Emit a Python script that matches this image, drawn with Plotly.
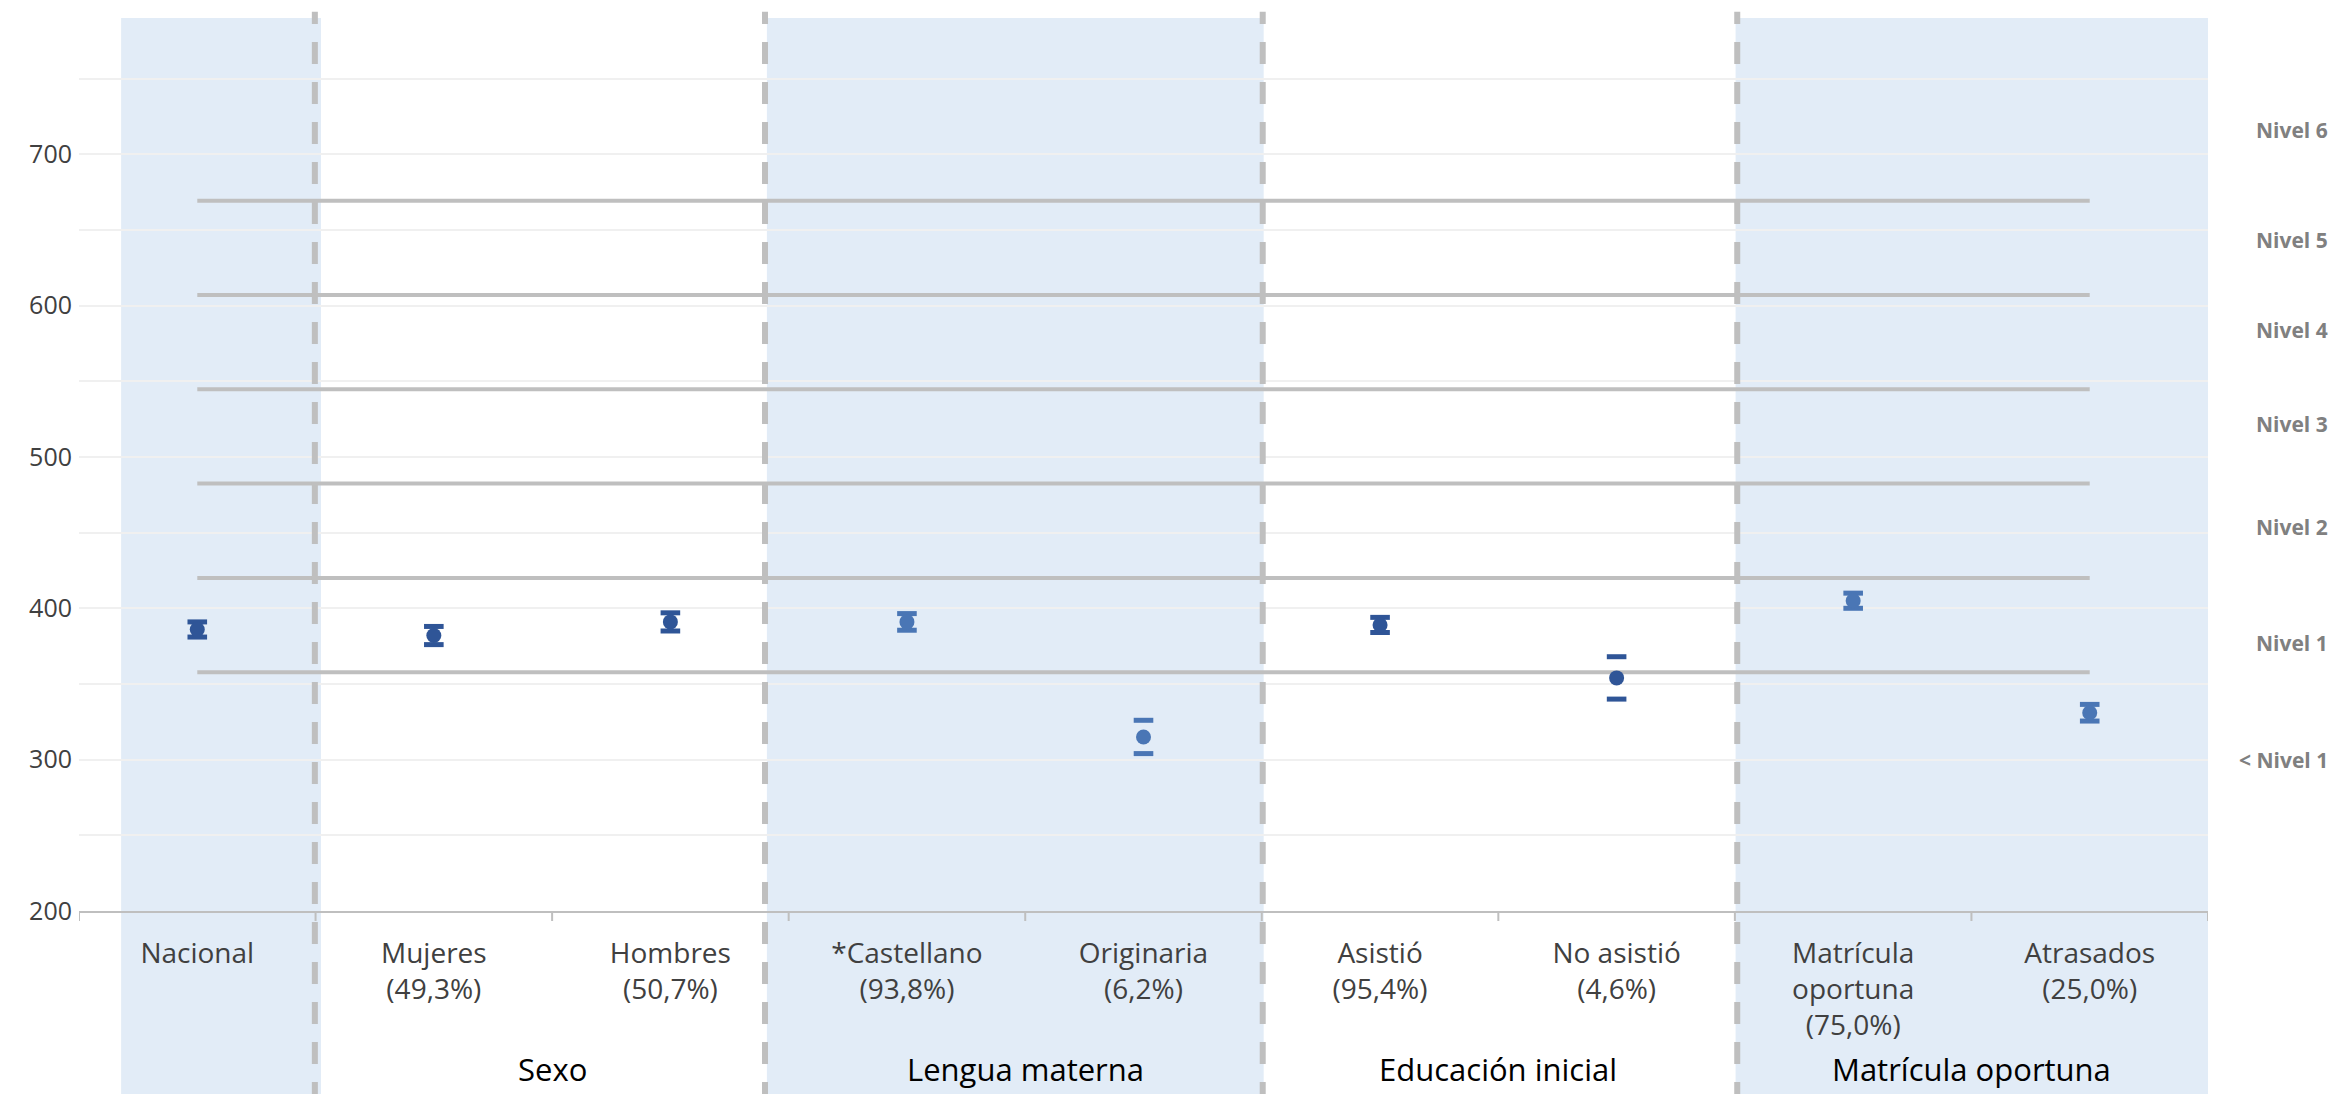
import plotly.graph_objects as go

categories = ["Nacional", "Mujeres<br>(49,3%)", "Hombres<br>(50,7%)", "*Castellano<br>(93,8%)",
              "Originaria<br>(6,2%)", "Asistió<br>(95,4%)", "No asistió<br>(4,6%)",
              "Matrícula<br>oportuna<br>(75,0%)", "Atrasados<br>(25,0%)"]
means = [386, 382, 391, 391, 315, 389, 354, 405, 331]
errors = [5, 6, 6, 5.5, 11, 5, 14, 5, 5.5]
shaded = [False, False, False, True, True, False, False, True, True]

groups = ["Sexo", "Lengua materna", "Educación inicial", "Matrícula oportuna"]
group_centers = [1.5, 3.5, 5.5, 7.5]

level_cuts = [357.77, 420.07, 482.38, 544.68, 606.99, 669.30]
level_names = ["Nivel 6", "Nivel 5", "Nivel 4", "Nivel 3", "Nivel 2", "Nivel 1", "< Nivel 1"]
level_label_y = [716, 643, 584, 522, 454, 377, 300]

separators = [0.497, 2.40, 4.504, 6.51]
shade_spans = [(-0.322, 0.523), (2.408, 4.508), (6.503, 8.517)]

DARK = "#2F5597"
LIGHT = "#4A76B5"
GRAY = "#BFBFBF"

# page has an 8px body margin: compensate
W, H = 2330, 1086
ML, MR, MT, MB = 71, 2338 - 2208, 10, 1094 - 911
PLOT_H = H - MT - MB

xs = list(range(len(categories)))
fig = go.Figure()

for v in level_cuts:
    fig.add_trace(go.Scatter(x=[xs[0], xs[-1]], y=[v, v], mode="lines",
                             line=dict(color=GRAY, width=4), hoverinfo="skip", showlegend=False))

colors = [LIGHT if s else DARK for s in shaded]
fig.add_trace(go.Scatter(x=xs + xs, y=[m + e for m, e in zip(means, errors)] + [m - e for m, e in zip(means, errors)],
                         mode="markers", marker=dict(symbol="line-ew", size=14, line=dict(width=5, color=colors + colors)),
                         hoverinfo="skip", showlegend=False))
fig.add_trace(go.Scatter(x=xs, y=means, mode="markers",
                         marker=dict(size=15, color=colors), showlegend=False))

bottom = -(MB + 10) / PLOT_H
shapes = []
for a, b in shade_spans:
    shapes.append(dict(type="rect", xref="x", yref="paper", x0=a, x1=b, y0=bottom, y1=1.0,
                       fillcolor="#E2ECF7", line=dict(width=0), layer="below"))
for s in separators:
    shapes.append(dict(type="line", xref="x", yref="paper", x0=s, x1=s, y0=bottom, y1=1.007,
                       line=dict(color=GRAY, width=6, dash="22px,18px"), layer="above"))
for i in range(len(categories) + 1):
    b = i - 0.5
    shapes.append(dict(type="line", xref="x", yref="paper", x0=b, x1=b, y0=0, y1=-10 / PLOT_H,
                       line=dict(color=GRAY, width=2), layer="below"))

annotations = []
for g, c in zip(groups, group_centers):
    annotations.append(dict(text=g, x=c, y=-158 / PLOT_H, xref="x", yref="paper", showarrow=False,
                            font=dict(family="Open Sans", size=31, color="#000000"), yanchor="middle"))
for n, yv in zip(level_names, level_label_y):
    annotations.append(dict(text="<b>" + n + "</b>", x=(2330 - 79) / (2208 - 79), y=yv, xref="paper", yref="y",
                            showarrow=False, xanchor="right",
                            font=dict(family="Open Sans", size=21, color="#808080")))

fig.update_layout(
    width=W, height=H,
    margin=dict(l=ML, r=MR, t=MT, b=MB),
    plot_bgcolor="rgba(0,0,0,0)", paper_bgcolor="white",
    shapes=shapes, annotations=annotations,
    xaxis=dict(tickmode="array", tickvals=xs, ticktext=categories, range=[-0.5, 8.5],
               showgrid=False, zeroline=False, showline=True, linecolor=GRAY, linewidth=2,
               ticks="", ticklabelstandoff=16,
               tickfont=dict(family="Open Sans", size=28, color="#404040")),
    yaxis=dict(range=[200, 790], tickvals=[200, 300, 400, 500, 600, 700], showgrid=True,
               gridcolor="#F0F0F0", gridwidth=2, zeroline=False, showline=False,
               minor=dict(dtick=50, showgrid=True, gridcolor="#F0F0F0", gridwidth=2),
               tickfont=dict(family="Open Sans", size=25, color="#404040"), ticklabelstandoff=6),
)

fig.write_html("out.html")
